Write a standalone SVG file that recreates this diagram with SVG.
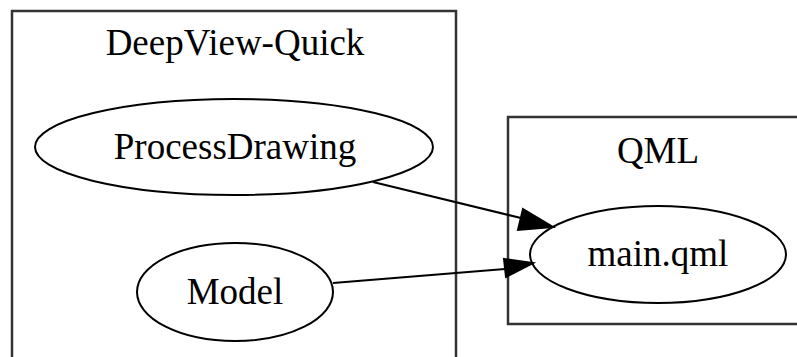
<svg xmlns="http://www.w3.org/2000/svg" width="797" height="357" viewBox="0 0 797 357">
<defs>
<style>
.cl{fill:none;stroke:#333;stroke-width:2.5}
.nd{fill:none;stroke:#000;stroke-width:2}
.t{font-family:"Liberation Serif","Times New Roman",serif;font-size:37px;fill:#000;text-anchor:middle}
.e{fill:none;stroke:#000;stroke-width:2}
</style>
</defs>
<rect width="797" height="357" fill="#fff"/>
<g id="cluster_deepview">
<rect class="cl" x="12" y="11" width="444" height="360"/>
<text class="t" x="235" y="55">DeepView-Quick</text>
</g>
<g id="cluster_qml">
<rect class="cl" x="508" y="117" width="300" height="207"/>
<text class="t" x="658" y="163">QML</text>
</g>
<g id="node_processdrawing">
<ellipse class="nd" cx="234" cy="147" rx="199" ry="48"/>
<text class="t" x="235" y="159">ProcessDrawing</text>
</g>
<g id="node_model">
<ellipse class="nd" cx="235" cy="292" rx="98" ry="49"/>
<text class="t" x="235" y="304">Model</text>
</g>
<g id="node_mainqml">
<ellipse class="nd" cx="658" cy="254.5" rx="128" ry="48.5"/>
<text class="t" x="658" y="266">main.qml</text>
</g>
<g id="connectors">
<path class="e" d="M373,182 L525,219"/>
<path d="M523,209 L553,227 L518,230 z" fill="#000" stroke="#000" stroke-width="2"/>
<path class="e" d="M333,283 L505,269"/>
<path d="M504,259 L533,263 L506,277 z" fill="#000" stroke="#000" stroke-width="2"/>
</g>
</svg>
